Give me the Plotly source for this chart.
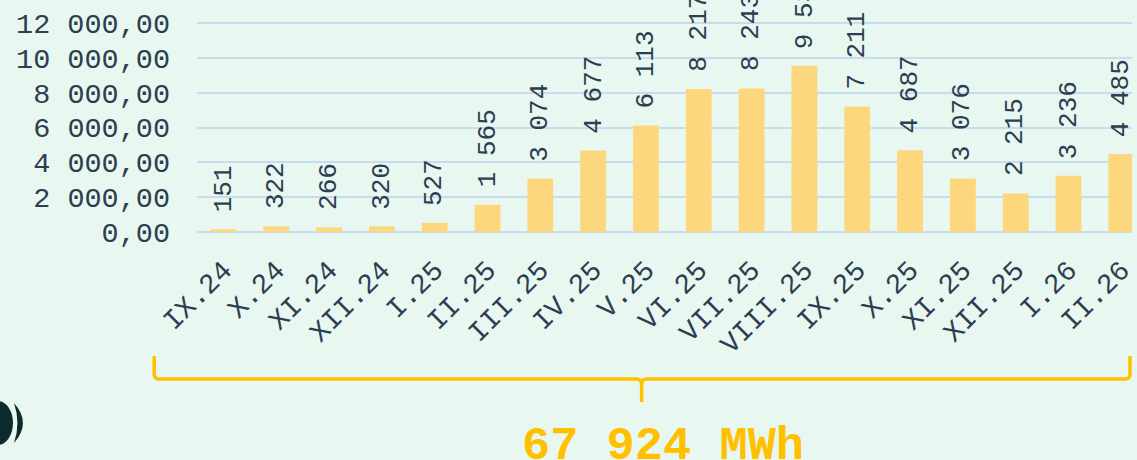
import plotly.graph_objects as go

# ---- data ----
months = ["IX.24", "X.24", "XI.24", "XII.24", "I.25", "II.25", "III.25", "IV.25",
          "V.25", "VI.25", "VII.25", "VIII.25", "IX.25", "X.25", "XI.25", "XII.25",
          "I.26", "II.26"]
energy_mwh = [151, 322, 266, 320, 527, 1565, 3074, 4677, 6113, 8217, 8243, 9539,
              7211, 4687, 3076, 2215, 3236, 4485]
y_ticks = [0, 2000, 4000, 6000, 8000, 10000, 12000, 14000]
unit = "MWh"

# ---- styling ----
W, H = 1137, 460
L, T = 197, 0
PLOT_H = 232
B = H - T - PLOT_H
BG = "#E8F8F0"
BAR = "#FDD77E"
GRID = "#C8DCF0"
TXT = "#2C3E50"
ORANGE = "#FFC000"
FONT = "Liberation Mono, DejaVu Sans Mono, monospace"
PLOT_W = W - L


def fmt_thousands(v):
    return f"{v:,}".replace(",", " ")


def fmt_tick(v):
    return f"{v:,.2f}".replace(",", " ").replace(".", ",")


def px(xp):
    return (xp - L) / PLOT_W


def py(yp):
    return (T + PLOT_H - yp) / PLOT_H


fig = go.Figure()
fig.add_trace(go.Bar(x=list(range(len(months))), y=energy_mwh, marker_color=BAR,
                     marker_line_width=0, hoverinfo="skip"))

for i, v in enumerate(energy_mwh):
    fig.add_annotation(x=i, y=v, text=fmt_thousands(v), textangle=-90, showarrow=False,
                       xanchor="center", yanchor="bottom", yshift=15,
                       font=dict(family=FONT, size=26, color=TXT))

# bracket
bracket = (f"M {px(154)},{py(356)} L {px(154)},{py(374)} Q {px(154)},{py(379)} {px(159)},{py(379)} "
           f"L {px(639)},{py(379)} Q {px(644)},{py(379)} {px(644)},{py(385)} L {px(644)},{py(402)} "
           f"M {px(644)},{py(385)} Q {px(644)},{py(379)} {px(649)},{py(379)} "
           f"L {px(1130)},{py(379)} Q {px(1135)},{py(379)} {px(1135)},{py(374)} L {px(1135)},{py(356)}")
fig.add_shape(type="path", xref="paper", yref="paper", path=bracket,
              line=dict(color=ORANGE, width=3.5))

fig.add_annotation(xref="paper", yref="paper", x=px(665), y=py(446), showarrow=False,
                   text=f"{fmt_thousands(sum(energy_mwh))} {unit}",
                   xanchor="center", yanchor="middle",
                   font=dict(family=FONT, size=47, color=ORANGE, weight="bold"))

# logo fragment
LOGO = "#0D2B2B"
fig.add_shape(type="circle", xref="paper", yref="paper",
              x0=px(-18), x1=px(12), y0=py(445), y1=py(401),
              fillcolor=LOGO, line_width=0)
cres = (f"M {px(13)},{py(403)} Q {px(31)},{py(423)} {px(13)},{py(443)} "
        f"Q {px(20)},{py(423)} {px(13)},{py(403)} Z")
fig.add_shape(type="path", xref="paper", yref="paper", path=cres,
              fillcolor=LOGO, line_width=0)

fig.update_layout(
    width=W, height=H,
    margin=dict(l=L, r=0, t=T, b=B, pad=0),
    paper_bgcolor=BG, plot_bgcolor=BG,
    bargap=0.51, showlegend=False,
    xaxis=dict(range=[-0.5, -0.5 + PLOT_W / 53.1], tickmode="array",
               tickvals=list(range(len(months))), ticktext=months, tickangle=-45,
               tickfont=dict(family=FONT, size=28, color=TXT), showgrid=False,
               zeroline=False, showline=False, ticks="", ticklabelstandoff=15,
               ticklabeloverflow="allow"),
    yaxis=dict(range=[0, 13320], tickmode="array", tickvals=y_ticks,
               ticktext=[fmt_tick(v) for v in y_ticks],
               tickfont=dict(family=FONT, size=28.5, color=TXT),
               showgrid=True, gridcolor=GRID, gridwidth=2, zeroline=True,
               zerolinecolor=GRID, zerolinewidth=2, showline=False, ticks="",
               ticklabelstandoff=26),
)

fig.write_html("out.html", config={"displayModeBar": False},
               post_script="document.body.style.margin='0';"
                           "document.body.style.overflow='hidden';"
                           f"document.body.style.background='{BG}';")
